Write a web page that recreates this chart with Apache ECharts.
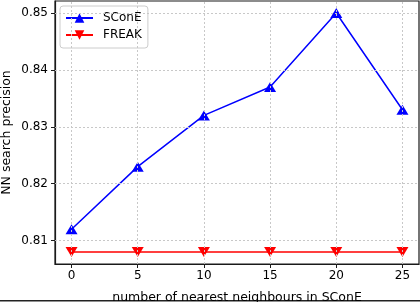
<!DOCTYPE html>
<html>
<head>
<meta charset="utf-8">
<script src="https://cdn.jsdelivr.net/npm/echarts@6/dist/echarts.min.js"></script>
<style>
html,body{margin:0;padding:0;background:#fff;}
#c{width:420px;height:302px;}
</style>
</head>
<body>
<div id="c"></div>
<script>
var xValues = [0, 5, 10, 15, 20, 25];
var sconeValues = [0.812, 0.823, 0.832, 0.837, 0.850, 0.833];
var freakValues = [0.808, 0.808, 0.808, 0.808, 0.808, 0.808];
var xTicks = [0, 5, 10, 15, 20, 25];
var yTicks = [0.81, 0.82, 0.83, 0.84, 0.85];
var seriesNames = ['SConE', 'FREAK'];

var FONT = 'DejaVu Sans';
var X_MIN = -1.25, X_MAX = 26.25, Y_MIN = 0.8059, Y_MAX = 0.8521;
function pairs(xs, ys) { return xs.map(function (x, i) { return [x, ys[i]]; }); }

var gridLines = xTicks.map(function (t) { return [{ coord: [t, Y_MIN] }, { coord: [t, Y_MAX] }]; })
  .concat(yTicks.map(function (t) { return [{ coord: [X_MIN, t] }, { coord: [X_MAX, t] }]; }));

var chart = echarts.init(document.getElementById('c'), null, { renderer: 'canvas' });
chart.setOption({
  animation: false,
  backgroundColor: '#fff',
  textStyle: { fontFamily: FONT },
  grid: {
    left: 55, right: 1, top: 1, bottom: 38,
    containLabel: false, outerBoundsMode: 'none',
    show: true, borderColor: '#1a1a1a', borderWidth: 1.2, backgroundColor: 'transparent'
  },
  legend: {
    orient: 'vertical',
    left: 60, top: 6,
    padding: [6, 6, 7, 5],
    itemGap: 5,
    itemWidth: 27, itemHeight: 12,
    backgroundColor: 'rgba(255,255,255,0.85)',
    borderColor: '#cccccc', borderWidth: 1, borderRadius: 3,
    textStyle: { fontFamily: FONT, fontSize: 12, color: '#000', padding: [0, 0, 0, 5] },
    data: seriesNames
  },
  xAxis: {
    type: 'value', min: X_MIN, max: X_MAX,
    name: 'number of nearest neighbours in SConE',
    nameLocation: 'middle', nameGap: 27, nameMoveOverlap: false,
    nameTextStyle: { fontFamily: FONT, fontSize: 12.5, color: '#000' },
    axisLine: { show: true, onZero: false, lineStyle: { color: '#1a1a1a', width: 1.2 } },
    axisTick: { show: true, inside: false, length: 4, customValues: xTicks, lineStyle: { color: '#1a1a1a', width: 1 } },
    axisLabel: { customValues: xTicks, fontFamily: FONT, fontSize: 12, color: '#000', margin: 6 },
    splitLine: { show: false }
  },
  yAxis: {
    type: 'value', min: Y_MIN, max: Y_MAX,
    name: 'NN search precision',
    nameLocation: 'middle', nameGap: 42, nameRotate: 90, nameMoveOverlap: false,
    nameTextStyle: { fontFamily: FONT, fontSize: 12.5, color: '#000' },
    axisLine: { show: true, onZero: false, lineStyle: { color: '#1a1a1a', width: 1.2 } },
    axisTick: { show: true, inside: false, length: 4, customValues: yTicks, lineStyle: { color: '#1a1a1a', width: 1 } },
    axisLabel: { customValues: yTicks, fontFamily: FONT, fontSize: 12, color: '#000', margin: 7,
      formatter: function (v) { return v.toFixed(2); } },
    splitLine: { show: false }
  },
  series: [
    {
      name: 'grid', type: 'line', data: [], silent: true, z: 1,
      markLine: {
        silent: true, symbol: ['none', 'none'], label: { show: false },
        lineStyle: { color: '#c8c8c8', type: [2, 2], width: 1 },
        emphasis: { disabled: true },
        data: gridLines
      }
    },
    {
      name: seriesNames[0], type: 'line',
      data: pairs(xValues, sconeValues),
      symbol: 'triangle', symbolSize: [12, 10],
      lineStyle: { color: '#0000ff', width: 1.5 },
      itemStyle: { color: '#0000ff' },
      z: 3
    },
    {
      name: seriesNames[1], type: 'line',
      data: pairs(xValues, freakValues),
      symbol: 'triangle', symbolRotate: 180, symbolSize: [12, 10],
      lineStyle: { color: '#ff0000', width: 1.5 },
      itemStyle: { color: '#ff0000' },
      z: 3
    }
  ],
  graphic: [
    { type: 'rect', left: 0, top: 300, shape: { width: 420, height: 1.5 }, style: { fill: '#222' }, silent: true }
  ]
});
</script>
</body>
</html>
